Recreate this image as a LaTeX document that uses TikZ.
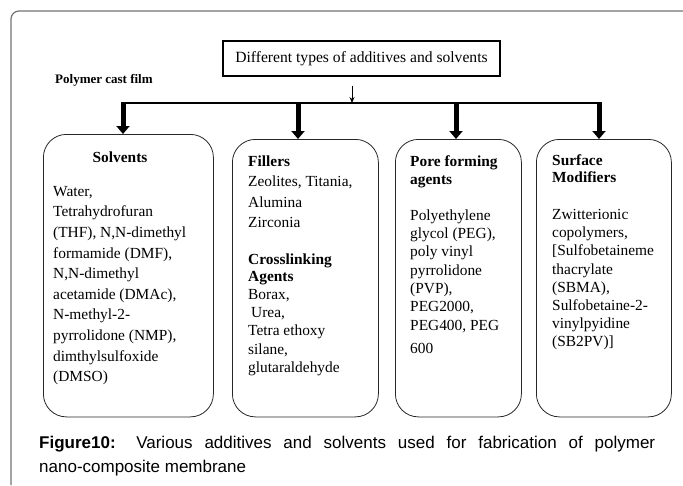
\documentclass[tikz,border=0pt]{standalone}
\usepackage{fontspec}
\setmainfont{Liberation Serif}
\newfontfamily\capfont{Liberation Sans}
\usetikzlibrary{arrows.meta, positioning}

\newcommand{\boxfont}[1]{\fontsize{15.4}{#1}\selectfont}

\tikzset{
    catbox/.style={draw=black!85, line width=0.8pt, rounded corners=23pt, anchor=north west, inner sep=0pt},
    txt/.style={anchor=north west, inner sep=0pt, align=left},
    bigarrow/.style={line width=5pt, -{Triangle[length=8pt, width=13pt]}},
    smallarrow/.style={line width=0.8pt, -{Stealth[length=6pt, width=5pt]}},
}

\begin{document}
\begin{tikzpicture}[x=1pt, y=-1pt]
    \useasboundingbox (0,0) rectangle (683,485);

    % Outer frame
    \draw[black!55, line width=1.2pt, rounded corners=8pt] (11,485) -- (11,11) -- (683,11);

    % Title and side label
    \node[draw, line width=1.4pt, minimum width=277pt, minimum height=35pt, inner sep=0pt,
          font=\fontsize{15.6}{18}\selectfont] (title) at (361.5,58.5) {Different types of additives and solvents};
    \node[anchor=base west, inner sep=0pt, font=\bfseries\fontsize{13}{15}\selectfont] (cast) at (55,83) {Polymer cast film};

    % Category boxes
    \node[catbox, minimum width=170pt, minimum height=282.5pt] (solv) at (43,134) {};
    \node[catbox, minimum width=146pt, minimum height=277.5pt] (fill) at (232,139) {};
    \node[catbox, minimum width=126pt, minimum height=277.5pt] (pore) at (395,139) {};
    \node[catbox, minimum width=135pt, minimum height=277.5pt] (surf) at (536,139) {};

    % Bus line and arrows
    \coordinate (j) at (352,103);
    \coordinate (a1) at (123,103);
    \coordinate (a2) at (298,103);
    \coordinate (a3) at (456,103);
    \coordinate (a4) at (599,103);
    \draw[line width=1.5pt] (a1) -- (a4);
    \draw[smallarrow, shorten <=9pt] (title.south -| j) -- (j);
    \draw[bigarrow] ([yshift=0.75pt]a1) -- (a1 |- solv.north);
    \draw[bigarrow] ([yshift=0.75pt]a2) -- (a2 |- fill.north);
    \draw[bigarrow] ([yshift=0.75pt]a3) -- (a3 |- pore.north);
    \draw[bigarrow] ([yshift=0.75pt]a4) -- (a4 |- surf.north);

    % Solvents
    \node[txt, anchor=base, font=\bfseries\boxfont{18}] (solvh) at (120,162) {Solvents};
    \node[txt, font=\boxfont{20.6}] (solvl) at (53,181.6) {\strut Water,\\Tetrahydrofuran\\(THF), N,N-dimethyl\\formamide (DMF),\\N,N-dimethyl\\acetamide (DMAc),\\N-methyl-2-\\pyrrolidone (NMP),\\dimthylsulfoxide\\(DMSO)};

    % Fillers and crosslinking agents
    \node[txt, anchor=base west, font=\bfseries\boxfont{18}] (fillh) at (248,166) {Fillers};
    \node[txt, font=\boxfont{20.3}] (filll) at (248,172.5) {\strut Zeolites, Titania,\\Alumina\\Zirconia};
    \node[txt, font=\bfseries\boxfont{17.7}] (crossh) at (248,251.6) {\strut Crosslinking\\Agents};
    \node[txt, font=\boxfont{18.2}] (crossl) at (248,286.6) {\strut Borax,\\\hspace{3pt}Urea,\\Tetra ethoxy\\silane,\\glutaraldehyde};

    % Pore forming agents
    \node[txt, font=\bfseries\boxfont{18}] (poreh) at (410,153.4) {\strut Pore forming\\agents};
    \node[txt, font=\boxfont{18.3}] (porel) at (410,207.2) {\strut Polyethylene\\glycol (PEG),\\poly vinyl\\pyrrolidone\\(PVP),\\PEG2000,\\PEG400, PEG\\[5.5pt]600};

    % Surface modifiers
    \node[txt, font=\bfseries\boxfont{17.7}] (surfh) at (552,152.6) {\strut Surface\\Modifiers};
    \node[txt, font=\boxfont{18.2}] (surfl) at (552,206.6) {\strut Zwitterionic\\copolymers,\\{[}Sulfobetaineme\\thacrylate\\(SBMA),\\Sulfobetaine-2-\\vinylpyidine\\(SB2PV)]};

    % Caption
    \node[txt, font=\capfont\fontsize{17}{24}\selectfont] (caption) at (39,431.2)
        {\strut\makebox[616pt][s]{\textbf{Figure10:} Various additives and solvents used for fabrication of polymer}\\nano-composite membrane};
\end{tikzpicture}
\end{document}
